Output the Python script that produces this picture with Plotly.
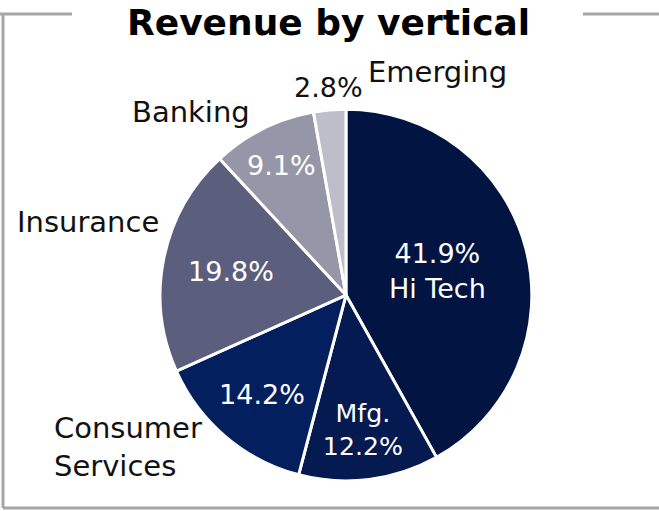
import plotly.graph_objects as go

labels = ["Hi Tech", "Mfg.", "Consumer Services", "Insurance", "Banking", "Emerging"]
values = [41.9, 12.2, 14.2, 19.8, 9.1, 2.8]
colors = ["#021542", "#061a52", "#041f5e", "#5b5e7c", "#9597a8", "#bdbec9"]
inside_text = ["{v}%<br>Hi Tech", "Mfg.<br>{v}%", "{v}%", "{v}%", "{v}%", ""]
outside_names = ["Emerging", "Banking", "Insurance", "Consumer<br>Services"]

FONT = "DejaVu Sans"
texts = [t.format(v=v) for t, v in zip(inside_text, values)]

fig = go.Figure()
fig.add_trace(go.Pie(
    labels=labels, values=values, sort=False, direction="clockwise", rotation=0,
    text=texts, textinfo="text", textposition="inside",
    insidetextorientation="horizontal",
    marker=dict(colors=colors, line=dict(color="white", width=3)),
    insidetextfont=dict(family=FONT, size=27, color="white"),
    domain=dict(x=[0.243, 0.807], y=[0.058, 0.787]),
    showlegend=False, hoverinfo="label+percent",
))

# small slice value shown outside, above the pie
fig.add_annotation(x=328 / 659, y=1 - 87 / 511, xref="paper", yref="paper",
                   text=f"{values[5]}%", showarrow=False, xanchor="center", yanchor="middle",
                   font=dict(family=FONT, size=27, color="#111111"))

ann_pos = [(437, 72, "center"), (191, 112, "center"), (88, 222, "center"), (52, 447, "left")]
for name, (px, py, al) in zip(outside_names, ann_pos):
    fig.add_annotation(x=px / 659, y=1 - py / 511, xref="paper", yref="paper",
                       text=name, showarrow=False, align=al,
                       xanchor="left" if al == "left" else "center", yanchor="middle",
                       font=dict(family=FONT, size=29, color="#111111"))

fig.add_annotation(x=328 / 659, y=1 - 22 / 511, xref="paper", yref="paper",
                   text="<b>Revenue by vertical</b>", showarrow=False,
                   xanchor="center", yanchor="middle",
                   font=dict(family=FONT, size=36, color="black"))

gray = "#a6a6a6"
ty = 1 - 14 / 511
by = 1 - 508 / 511
lx = 3 / 659
for x0, y0, x1, y1 in [(0, ty, 72 / 659, ty), (583 / 659, ty, 1, ty),
                        (lx, ty, lx, by), (lx, by, 1, by)]:
    fig.add_shape(type="line", xref="paper", yref="paper", x0=x0, y0=y0, x1=x1, y1=y1,
                  line=dict(color=gray, width=3))

fig.update_layout(width=659, height=511, margin=dict(l=0, r=0, t=0, b=0),
                  paper_bgcolor="white", plot_bgcolor="white")
fig.write_html("out.html", config={"displayModeBar": False},
               post_script="document.body.style.margin='0';document.body.style.overflow='hidden';")
